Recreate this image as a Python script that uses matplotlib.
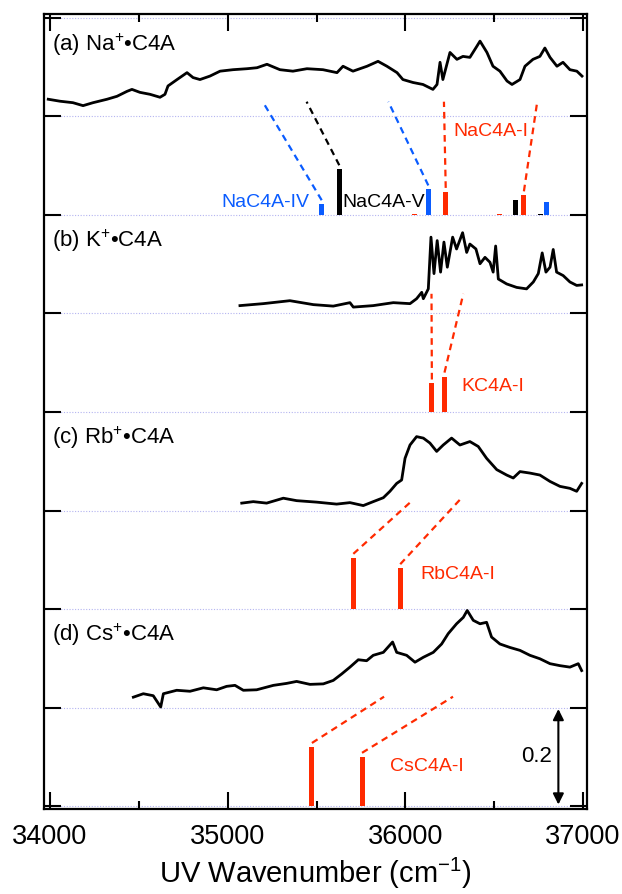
import numpy as np
import matplotlib
matplotlib.use("Agg")
from matplotlib import pyplot as plt

plt.rcParams['font.family'] = ['Liberation Sans', 'DejaVu Sans']
plt.rcParams['mathtext.fontset'] = 'custom'
plt.rcParams['mathtext.rm'] = 'Liberation Sans'
plt.rcParams['mathtext.it'] = 'Liberation Sans:italic'

# spectra (wavenumber in cm-1, absorbance above each panel's baseline)
wn_a = [33990, 34056, 34129, 34186, 34242, 34321, 34377, 34433, 34461, 34506,
        34563, 34619, 34647, 34664, 34715, 34771, 34805, 34844, 34900, 34957,
        35030, 35109, 35165, 35221, 35294, 35367, 35446, 35536, 35615, 35649,
        35705, 35784, 35846, 35896, 35953, 35986, 36043, 36099, 36155, 36178,
        36195, 36211, 36251, 36290, 36324, 36363, 36403, 36420, 36459, 36493,
        36532, 36572, 36600, 36645, 36673, 36718, 36757, 36785, 36814, 36853,
        36887, 36926, 36965, 36994]
abs_a = [0.035, 0.031, 0.028, 0.022, 0.028, 0.035, 0.041, 0.051, 0.055, 0.049,
         0.045, 0.039, 0.045, 0.062, 0.075, 0.089, 0.079, 0.075, 0.082, 0.092,
         0.095, 0.097, 0.099, 0.106, 0.095, 0.092, 0.097, 0.095, 0.089, 0.102,
         0.092, 0.102, 0.112, 0.102, 0.089, 0.075, 0.069, 0.065, 0.055, 0.065,
         0.110, 0.075, 0.130, 0.116, 0.122, 0.120, 0.143, 0.153, 0.130, 0.102,
         0.092, 0.072, 0.065, 0.075, 0.102, 0.116, 0.122, 0.139, 0.120, 0.102,
         0.110, 0.095, 0.092, 0.082]

wn_b = [35069, 35200, 35350, 35482, 35594, 35688, 35707, 35819, 35932, 36026,
        36063, 36092, 36101, 36129, 36144, 36161, 36179, 36198, 36217, 36236,
        36266, 36288, 36322, 36345, 36363, 36397, 36420, 36448, 36476, 36494,
        36508, 36523, 36570, 36626, 36682, 36720, 36748, 36770, 36791, 36814,
        36832, 36851, 36888, 36926, 36964, 36992]
abs_b = [0.016, 0.020, 0.026, 0.018, 0.015, 0.022, 0.013, 0.016, 0.022, 0.020,
         0.030, 0.043, 0.030, 0.050, 0.155, 0.081, 0.148, 0.084, 0.145, 0.094,
         0.155, 0.131, 0.164, 0.124, 0.141, 0.131, 0.101, 0.114, 0.104, 0.084,
         0.137, 0.070, 0.060, 0.053, 0.050, 0.064, 0.081, 0.123, 0.084, 0.094,
         0.130, 0.084, 0.077, 0.064, 0.057, 0.058]

wn_c = [35079, 35144, 35219, 35313, 35388, 35501, 35613, 35688, 35763, 35819,
        35876, 35913, 35951, 35979, 35998, 36026, 36063, 36101, 36138, 36176,
        36213, 36260, 36307, 36363, 36410, 36457, 36514, 36570, 36607, 36645,
        36701, 36757, 36814, 36870, 36926, 36964, 36992]
abs_c = [0.015, 0.018, 0.015, 0.025, 0.020, 0.017, 0.013, 0.016, 0.010, 0.018,
         0.026, 0.039, 0.055, 0.062, 0.106, 0.133, 0.150, 0.147, 0.137, 0.120,
         0.133, 0.147, 0.133, 0.140, 0.130, 0.106, 0.083, 0.072, 0.066, 0.079,
         0.076, 0.072, 0.059, 0.049, 0.045, 0.039, 0.055]

wn_d = [34469, 34525, 34581, 34623, 34638, 34713, 34788, 34863, 34938, 34994,
        35041, 35088, 35163, 35257, 35332, 35388, 35463, 35538, 35594, 35641,
        35688, 35735, 35782, 35819, 35876, 35928, 35951, 36007, 36054, 36101,
        36157, 36204, 36241, 36288, 36326, 36348, 36382, 36420, 36457, 36485,
        36532, 36588, 36645, 36701, 36757, 36814, 36870, 36926, 36973, 36992]
abs_d = [0.021, 0.028, 0.024, 0.001, 0.028, 0.035, 0.033, 0.040, 0.036, 0.043,
         0.045, 0.035, 0.036, 0.045, 0.049, 0.053, 0.047, 0.048, 0.055, 0.068,
         0.082, 0.097, 0.095, 0.106, 0.112, 0.133, 0.112, 0.106, 0.092, 0.102,
         0.112, 0.129, 0.150, 0.170, 0.183, 0.197, 0.177, 0.170, 0.173, 0.143,
         0.129, 0.122, 0.116, 0.106, 0.099, 0.089, 0.085, 0.082, 0.089, 0.075]

# calculated stick spectra
na_iv_wn = [35529, 36129, 36795]
na_iv_h = [0.022, 0.052, 0.026]
na_v_wn = [35628, 36617, 36761]
na_v_h = [0.093, 0.030, 0.003]
na_i_wn = [36054, 36227, 36527, 36667]
na_i_h = [0.003, 0.047, 0.003, 0.040]
k_i_wn = [36149, 36220]
k_i_h = [0.058, 0.072]
rb_i_wn = [35707, 35971]
rb_i_h = [0.104, 0.083]
cs_i_wn = [35474, 35756]
cs_i_h = [0.120, 0.100]

# assignments: (stick wavenumber, observed band wavenumber)
na_links_iv = [(35529, 35197), (36129, 35904)]
na_links_v = [(35628, 35444)]
na_links_i = [(36227, 36217), (36667, 36742)]
k_links = [(36149, 36147), (36220, 36326)]
rb_links = [(35707, 36044), (35971, 36307)]
cs_links = [(35474, 35880), (35756, 36268)]

labels = ['(a) Na$^{+}$\u2022C4A', '(b) K$^{+}$\u2022C4A',
          '(c) Rb$^{+}$\u2022C4A', '(d) Cs$^{+}$\u2022C4A']

RED = '#ff2a00'
BLUE = '#0a5cff'
BLACK = '#000000'

fig = plt.figure(figsize=(6.22, 8.94), dpi=100)
ax = fig.add_axes([0.0707, 0.0951, 0.873, 0.8892])

for lv in np.arange(0, 1.61, 0.2):
    ax.axhline(lv, color='#b4b4f0', lw=0.8, ls=(0, (1, 1.5)), zorder=0)

spec_off = [1.4, 1.0, 0.6, 0.2]
spectra = [(wn_a, abs_a), (wn_b, abs_b), (wn_c, abs_c), (wn_d, abs_d)]
for (w, a), off in zip(spectra, spec_off):
    ax.plot(w, np.array(a) + off, color='black', lw=2.0, zorder=3)

def sticks(wn, h, base, color):
    ax.bar(wn, h, width=28, bottom=base, color=color, lw=0, zorder=2)

def links(pairs, wn, h, base, top, color):
    lookup = dict(zip(wn, h))
    for s, band in pairs:
        y0 = base + lookup[s] + 0.008
        ax.plot([s, band], [y0, top], color=color, lw=1.6,
                dashes=(3, 2.2), zorder=2)

sticks(na_iv_wn, na_iv_h, 1.2, BLUE)
sticks(na_v_wn, na_v_h, 1.2, BLACK)
sticks(na_i_wn, na_i_h, 1.2, RED)
sticks(k_i_wn, k_i_h, 0.8, RED)
sticks(rb_i_wn, rb_i_h, 0.4, RED)
sticks(cs_i_wn, cs_i_h, 0.0, RED)

links(na_links_iv, na_iv_wn, na_iv_h, 1.2, 1.43, BLUE)
links(na_links_v, na_v_wn, na_v_h, 1.2, 1.43, BLACK)
links(na_links_i, na_i_wn, na_i_h, 1.2, 1.43, RED)
links(k_links, k_i_wn, k_i_h, 0.8, 1.04, RED)
links(rb_links, rb_i_wn, rb_i_h, 0.4, 0.622, RED)
links(cs_links, cs_i_wn, cs_i_h, 0.0, 0.222, RED)

fs = 14
ax.text(35460, 1.225, 'NaC4A-IV', color=BLUE, fontsize=fs, ha='right', va='center')
ax.text(35645, 1.225, 'NaC4A-V', color=BLACK, fontsize=fs, ha='left', va='center')
ax.text(36268, 1.370, 'NaC4A-I', color=RED, fontsize=fs, ha='left', va='center')
ax.text(36317, 0.851, 'KC4A-I', color=RED, fontsize=fs, ha='left', va='center')
ax.text(36082, 0.471, 'RbC4A-I', color=RED, fontsize=fs, ha='left', va='center')
ax.text(35913, 0.081, 'CsC4A-I', color=RED, fontsize=fs, ha='left', va='center')

for lab, y in zip(labels, [1.545, 1.147, 0.747, 0.347]):
    ax.text(34011, y, lab, fontsize=16, ha='left', va='center')

# 0.2 scale bar
ax.annotate('', xy=(36861, 0.003), xytext=(36861, 0.197),
            arrowprops=dict(arrowstyle='<|-|>', color='black', lw=1.5,
                            mutation_scale=16, shrinkA=0, shrinkB=0))
ax.text(36827, 0.100, '0.2', fontsize=16, ha='right', va='center')

ax.set_xlim(33966, 37022)
ax.set_ylim(-0.006, 1.608)
ax.set_yticks(np.arange(0, 1.61, 0.2))
ax.set_xticks([34000, 35000, 36000, 37000])
ax.set_xticks([34500, 35500, 36500], minor=True)
ax.tick_params(axis='y', direction='in', length=12, width=1.5,
               left=True, right=True, labelleft=False)
ax.tick_params(axis='x', which='major', direction='in', length=12, width=1.5,
               top=True, labelsize=19.5, pad=11)
ax.tick_params(axis='x', which='minor', direction='in', length=6, width=1.5,
               top=True)
for sp in ax.spines.values():
    sp.set_linewidth(1.6)
ax.set_xlabel('UV Wavenumber (cm$^{-1}$)', fontsize=21, labelpad=4)

fig.savefig('out.png', dpi=100)
